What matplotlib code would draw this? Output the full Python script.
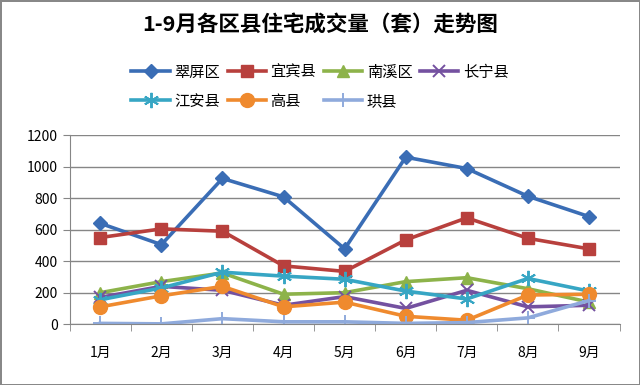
import numpy as np
import matplotlib.pyplot as plt

plt.rcParams['font.family'] = ['Noto Sans CJK SC', 'DejaVu Sans']

months = ['1月', '2月', '3月', '4月', '5月', '6月', '7月', '8月', '9月']

cuiping = [640, 505, 925, 808, 478, 1060, 988, 812, 683]
yibin = [550, 605, 590, 370, 335, 535, 675, 545, 478]
nanxi = [200, 270, 325, 190, 200, 270, 295, 225, 140]
changning = [170, 240, 215, 120, 175, 100, 215, 110, 120]
jiangan = [155, 230, 330, 305, 285, 210, 160, 290, 210]
gaoxian = [110, 180, 240, 110, 140, 50, 25, 185, 190]
gongxian = [5, 2, 35, 15, 15, 5, 10, 40, 150]

names = ['翠屏区', '宜宾县', '南溪区', '长宁县', '江安县', '高县', '珙县']
series = [cuiping, yibin, nanxi, changning, jiangan, gaoxian, gongxian]
colors = ['#3A6DB5', '#B8403D', '#8DB34A', '#7451A0', '#37A6C4', '#EF8A2E', '#8FAADC']
# asterisk for 江安县 like the Excel marker
markers = ['D', 's', '^', 'x', (6, 2, 0), 'o', '+']
msizes = [7.5, 9, 8, 9, 11, 10, 10]

fig = plt.figure(figsize=(6.4, 3.85), dpi=100)
fig.patch.set_edgecolor('#888888')
fig.patch.set_linewidth(2)
ax = fig.add_axes([0.109, 0.158, 0.859, 0.491])

x = np.arange(len(months))
handles = []
for s, n, c, m, ms in zip(series, names, colors, markers, msizes):
    mew = 1.4 if m in ('x', '+') or isinstance(m, tuple) else 1
    h, = ax.plot(x, s, color=c, lw=2.6, marker=m, ms=ms, mec=c, mfc=c,
                 mew=mew, label=n)
    handles.append(h)

ax.set_xlim(-0.5, 8.5)
ax.set_ylim(0, 1200)
ax.set_yticks(np.arange(0, 1201, 200))
ax.yaxis.grid(True, color='#868686', lw=1)
ax.set_axisbelow(True)
ax.set_xticks(x)
ax.set_xticklabels(months, fontsize=10)
ax.set_xticks(np.arange(-0.5, 9, 1), minor=True)
ax.tick_params(axis='x', which='major', length=0, pad=16)
ax.tick_params(axis='x', which='minor', length=5, color='#868686', direction='out')
ax.tick_params(axis='y', length=5, color='#868686', labelsize=10)
for sp in ['top', 'right']:
    ax.spines[sp].set_visible(False)
for sp in ['left', 'bottom']:
    ax.spines[sp].set_color('#868686')

fig.text(0.5, 0.935, '1-9月各区县住宅成交量（套）走势图', ha='center', va='center',
         fontsize=15.5, fontweight='bold')

# column-major fill so the rows read like the original legend
order = [0, 4, 1, 5, 2, 6, 3]
fig.legend([handles[i] for i in order], [names[i] for i in order],
           ncol=4, loc='center', bbox_to_anchor=(0.5, 0.775), frameon=False,
           fontsize=11, handlelength=2.5, handletextpad=0.3, columnspacing=0.5,
           labelspacing=0.8)

fig.savefig('out.png', dpi=100, edgecolor=fig.get_edgecolor())
